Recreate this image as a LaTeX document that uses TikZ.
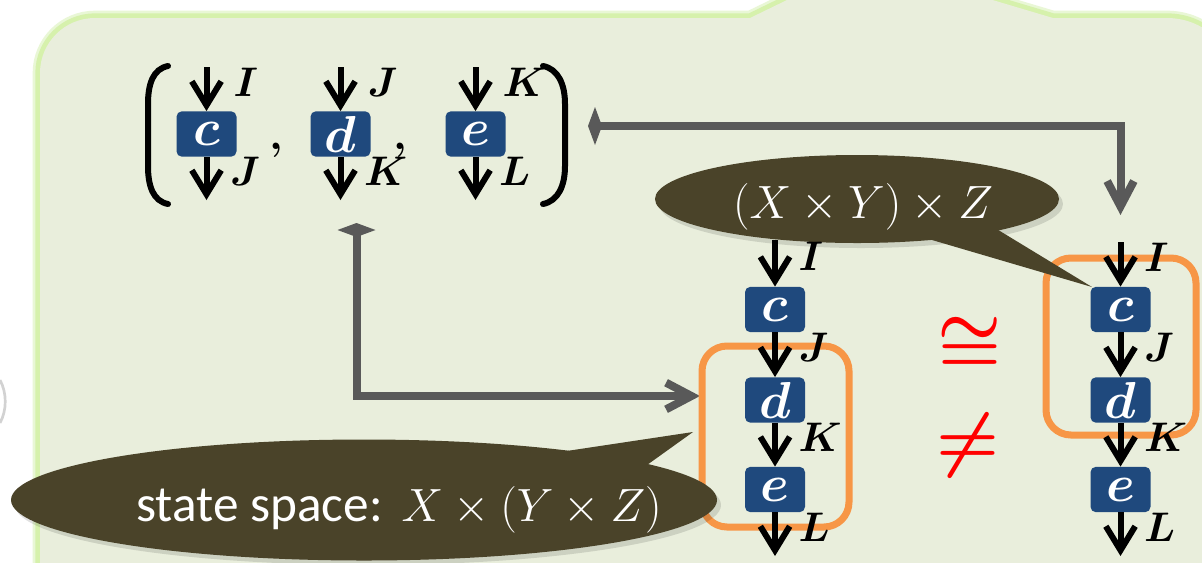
\RequirePackage{fix-cm}
\documentclass[tikz,border=0pt]{standalone}
\usepackage{fontspec}
\newfontfamily\carlito{Carlito}
\usetikzlibrary{arrows.meta,shapes.geometric}
\definecolor{panelfill}{HTML}{E9EEDC}
\definecolor{panelglow}{HTML}{D6F1AC}
\definecolor{panelglowL}{HTML}{E9F7D6}
\definecolor{boxblue}{HTML}{1F497D}
\definecolor{bubblec}{HTML}{4A4329}
\definecolor{orng}{HTML}{F79646}
\definecolor{gline}{HTML}{595959}
\begin{document}
\begin{tikzpicture}[x=0.75pt,y=-0.75pt,
  blk/.style={fill=boxblue, rounded corners=4pt, minimum width=45pt, minimum height=34pt,
    inner sep=0pt, text=white, font=\fontsize{39}{39}\selectfont\boldmath},
  arr/.style={line width=4.5pt, black, -{Straight Barb[length=18pt,width=22pt]}},
  garr/.style={line width=6pt, gline, {Diamond[length=10.5pt,width=28.5pt]}-{Straight Barb[length=19pt,width=20pt]}},
  lblfont/.style={font=\fontsize{31}{31}\selectfont\boldmath, inner sep=0pt},
  lbl/.style={lblfont, anchor=west, xshift=15.5pt},
  lblT/.style={lblfont, anchor=west, xshift=18pt},
  orect/.style={draw=orng, line width=5.25pt, rounded corners=18.75pt, inner sep=0pt},
  bub/.style={ellipse, fill=bubblec, inner sep=0pt, text=white},
  brk/.style={line width=4.5pt, black, line cap=round},
  relsym/.style={text=red, font=\fontsize{54}{54}\selectfont\boldmath, inner sep=0pt}
]
\useasboundingbox (0,0) rectangle (1202,562);
\fill[white] (0,0) rectangle (1202,562);
\clip (0,0) rectangle (1202,562);

% panel
\def\panelpath{(40,524) -- (40,73) arc[start angle=180,end angle=270,radius=55] -- (750,18) -- (865,-38) -- (1053,18) -- (1167,18) arc[start angle=270,end angle=360,radius=70] -- (1237,640) -- (40,640) -- cycle}
\draw[panelglowL, line width=11pt, line join=round] \panelpath;
\draw[panelglow, line width=7pt, line join=round] \panelpath;
\fill[panelfill] \panelpath;
\draw[gray!35, line width=2pt] (0,380) .. controls (7,393) and (7,410) .. (0,423);

% connectors (gray)
\coordinate (tupR) at (588,126);
\coordinate (rin) at (1120.5,215);
\coordinate (tupB) at (356.5,223);
\coordinate (omin) at (700,396);
\draw[garr] (tupR) -| (rin);
\draw[garr] (tupB) |- (omin);

% orange groupings
\node[orect, minimum width=110.25pt, minimum height=135.75pt] (om) at (775.5,436.5) {};
\node[orect, minimum width=112.5pt, minimum height=132.75pt] (orr) at (1121,346.5) {};

% bubble 1
\fill[black, opacity=0.12] (861,204) ellipse [x radius=202, y radius=44];
\fill[bubblec] (915,235) -- (1092,287) -- (990,225) -- cycle;
\node[bub, minimum width=303pt, minimum height=66pt] (b1) at (857,199) {};
\node[text=white, inner sep=0pt, anchor=base, font=\fontsize{35}{35}\selectfont] (b1t) at (863,218)
  {$(X\times Y)\times Z$};

% bubble 2
\fill[black, opacity=0.12] (368,505) ellipse [x radius=353, y radius=60];
\fill[bubblec] (540,455) -- (693,432) -- (640,470) -- cycle;
\node[bub, minimum width=529.5pt, minimum height=90.75pt] (b2) at (364,500) {};
\node[text=white, inner sep=0pt, anchor=base west, font=\fontsize{35}{35}\selectfont] (b2t) at (136,521)
  {{\carlito\fontsize{38.5}{38.5}\selectfont state space:} $X\times(Y\times Z)$};

% top row tuple
\draw[brk] (168,66) .. controls (153,69) and (148,84) .. (148,104) -- (148,166) .. controls (148,186) and (153,201) .. (168,204);
\draw[brk] (543,66) .. controls (558,69) and (565,84) .. (565,104) -- (565,166) .. controls (565,186) and (558,201) .. (543,204);

\node[blk] (tc) at (206.5,134) {$c$};
\node[blk] (td) at (340.5,134) {$d$};
\node[blk] (te) at (475.5,134) {$e$};
\coordinate (tcT) at (206.5,67);
\coordinate (tdT) at (340.5,67);
\coordinate (teT) at (475.5,67);
\coordinate (tcB) at (206.5,200);
\coordinate (tdB) at (340.5,200);
\coordinate (teB) at (475.5,200);
\draw[arr] (tcT) -- node[lblT,pos=.34]{$I$} (tc.north);
\draw[arr] (tdT) -- node[lblT,pos=.34]{$J$} (td.north);
\draw[arr] (teT) -- node[lblT,pos=.34]{$K$} (te.north);
\draw[arr] (tc.south) -- node[lbl,pos=.34]{$J$} (tcB);
\draw[arr] (td.south) -- node[lbl,pos=.34]{$K$} (tdB);
\draw[arr] (te.south) -- node[lbl,pos=.34]{$L$} (teB);
\node[lblfont] (cm1) at (276,150) {$,$};
\node[lblfont] (cm2) at (400,150) {$,$};

% middle chain
\node[blk] (mc) at (775,309.5) {$c$};
\node[blk] (md) at (775,400) {$d$};
\node[blk] (me) at (775,489.5) {$e$};
\coordinate (mT) at (775,240);
\coordinate (mB) at (775,556);
\draw[arr] (mT) -- node[lbl,pos=.36]{$I$} (mc.north);
\draw[arr] (mc.south) -- node[lbl,pos=.34]{$J$} (md.north);
\draw[arr] (md.south) -- node[lbl,pos=.34]{$K$} (me.north);
\draw[arr] (me.south) -- node[lbl,pos=.34]{$L$} (mB);

% right chain
\node[blk] (rc) at (1120.5,309.5) {$c$};
\node[blk] (rd) at (1120.5,400) {$d$};
\node[blk] (re) at (1120.5,489.5) {$e$};
\coordinate (rT) at (1120.5,242);
\coordinate (rB) at (1120.5,556);
\draw[arr] (rT) -- node[lbl,pos=.34]{$I$} (rc.north);
\draw[arr] (rc.south) -- node[lbl,pos=.34]{$J$} (rd.north);
\draw[arr] (rd.south) -- node[lbl,pos=.34]{$K$} (re.north);
\draw[arr] (re.south) -- node[lbl,pos=.34]{$L$} (rB);

% relations
\node[relsym] (iso) at (970,345) {$\cong$};
\node[relsym] (neq) at (968,445) {$\neq$};
\end{tikzpicture}
\end{document}
